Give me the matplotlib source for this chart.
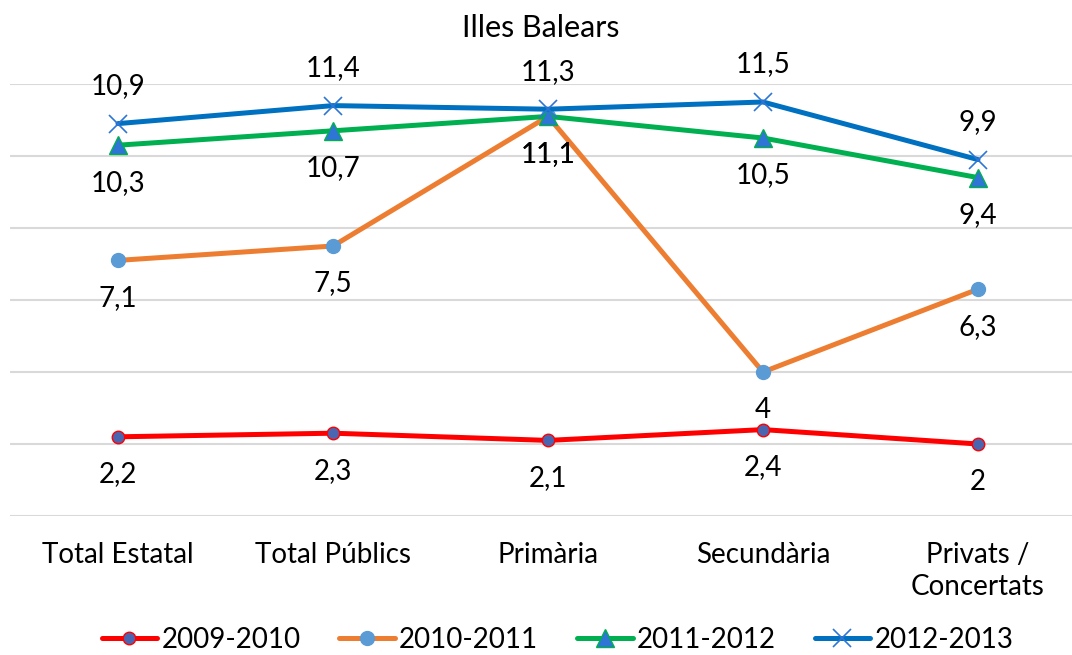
import matplotlib.pyplot as plt
import numpy as np

plt.rcParams['font.family'] = ['Lato', 'DejaVu Sans']

categories = ["Total Estatal", "Total Públics", "Primària", "Secundària", "Privats /\nConcertats"]
years = ["2009-2010", "2010-2011", "2011-2012", "2012-2013"]
v_2009 = [2.2, 2.3, 2.1, 2.4, 2.0]
v_2010 = [7.1, 7.5, 11.1, 4.0, 6.3]
v_2011 = [10.3, 10.7, 11.1, 10.5, 9.4]
v_2012 = [10.9, 11.4, 11.3, 11.5, 9.9]

fig = plt.figure(figsize=(10.72, 6.55), dpi=100)
ax = fig.add_axes([10 / 1072, (655 - 516) / 655, 1062 / 1072, 432 / 655])

x = np.arange(len(categories))

series = [
    (v_2009, dict(color="#FF0000", marker="o", markersize=9, markerfacecolor="#4A66B0",
                  markeredgecolor="#FF0000", markeredgewidth=1), -1),
    (v_2010, dict(color="#ED7D31", marker="o", markersize=10, markerfacecolor="#5B9BD5",
                  markeredgecolor="#5B9BD5"), -1),
    (v_2011, dict(color="#00B050", marker="^", markersize=13, markerfacecolor="#2E75D6",
                  markeredgecolor="#00B050", markeredgewidth=1), -1),
    (v_2012, dict(color="#0070C0", marker="x", markersize=13, markeredgecolor="#2E75D6",
                  markeredgewidth=1.2), 1),
]

for (vals, style, side), name in zip(series, years):
    ax.plot(x, vals, linewidth=3.6, label=name, solid_capstyle="round", **style)
    for xi, v in zip(x, vals):
        txt = f"{v:g}".replace(".", ",")
        ax.annotate(txt, (xi, v), xytext=(0, 27 * side), textcoords="offset points",
                    ha="center", va="center", fontsize=20)

ax.set_ylim(0, 12)
ax.set_xlim((10 - 118) / 215, (1072 - 118) / 215)
ax.set_yticks(np.arange(0, 13, 2))
ax.yaxis.grid(True, color="#D9D9D9", linewidth=1.5)
ax.set_axisbelow(True)
ax.tick_params(axis="y", left=False, labelleft=False)
ax.tick_params(axis="x", length=0, pad=19, labelsize=20)
ax.set_xticks(x)
ax.set_xticklabels(categories, va="top", linespacing=1.25)
for s in ax.spines.values():
    s.set_visible(False)

ax.set_title("Illes Balears", fontsize=22, pad=34)

fig.legend(loc="center", bbox_to_anchor=(0.52, 1 - 640 / 655), ncol=4, frameon=False,
           fontsize=20, handlelength=2.0, handletextpad=0.15, columnspacing=1.4)

fig.savefig("out.png", dpi=100)
